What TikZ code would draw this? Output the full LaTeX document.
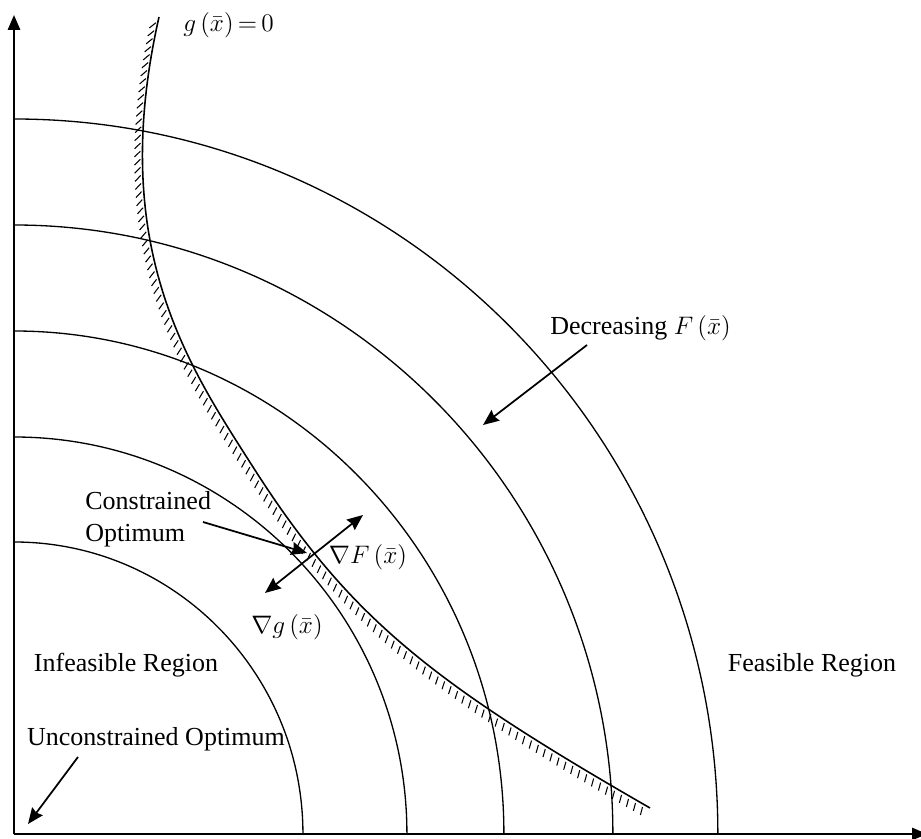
\documentclass[tikz,border=0pt]{standalone}
\usepackage{fontspec}
\setmainfont{Liberation Serif}
\usetikzlibrary{arrows.meta,decorations.markings}
\begin{document}
\begin{tikzpicture}[x=0.02cm,y=0.02cm,
  axis/.style={line width=1.1pt,-{Triangle[length=8.5pt,width=7pt]}},
  contour/.style={line width=0.75pt},
  ptr/.style={line width=1pt,-{Stealth[inset=1pt,length=9pt,width=7.5pt]}},
  dptr/.style={line width=1pt,{Stealth[inset=1pt,length=9pt,width=7.5pt]}-{Stealth[inset=1pt,length=9pt,width=7.5pt]}},
  lbl/.style={font=\fontsize{14.8}{18}\selectfont, inner sep=0pt},
  hatchmarks/.style={decorate,
    decoration={markings, mark=between positions 0.004 and 1 step 4.6pt with {%
      \pgfgettransformentries{\tra}{\trb}{\trc}{\trd}{\trx}{\try}%
      \pgfmathsetmacro\trrel{270-0.5*atan2(\trb,\tra)}%
      \draw[line width=0.6pt] (\trrel:1.7pt) -- (\trrel:6.4pt);}}}
]
\useasboundingbox (0,0) rectangle (921,839);
% axes
\coordinate (O) at (14,5);
\coordinate (ytop) at (14,824);
\coordinate (xend) at (927,5);
\draw[axis] (O) -- (ytop);
\draw[axis] (O) -- (xend);
% contours of F
\draw[contour] (O) ++(0,292) arc[start angle=90,end angle=0,x radius=5.78cm,y radius=5.84cm];
\draw[contour] (O) ++(0,397) arc[start angle=90,end angle=0,x radius=7.86cm,y radius=7.94cm];
\draw[contour] (O) ++(0,503) arc[start angle=90,end angle=0,x radius=9.80cm,y radius=10.06cm];
\draw[contour] (O) ++(0,609) arc[start angle=90,end angle=0,x radius=11.98cm,y radius=12.18cm];
\draw[contour] (O) ++(0,715) arc[start angle=90,end angle=0,x radius=14.08cm,y radius=14.30cm];
% constraint g = 0
\coordinate (g0) at (159,822);
\coordinate (g1) at (107,592);
\coordinate (g2) at (188.4,473.2);
\coordinate (g3) at (253,372);
\coordinate (g4) at (349.8,220.3);
\coordinate (g5) at (433.25,155.75);
\coordinate (g6) at (650,31);
\draw[line width=0.9pt] (g0) .. controls (g1) and (g2) .. (g3) .. controls (g4) and (g5) .. (g6);
\path[hatchmarks]
  plot[domain=0:1,samples=60,variable=\t]
    ({(1-\t)^3*159+3*(1-\t)^2*\t*107+3*(1-\t)*\t^2*188.4+\t^3*253},
     {(1-\t)^3*822+3*(1-\t)^2*\t*592+3*(1-\t)*\t^2*473.2+\t^3*372})
  -- plot[domain=0:1,samples=60,variable=\t]
    ({(1-\t)^3*253+3*(1-\t)^2*\t*349.8+3*(1-\t)*\t^2*433.25+\t^3*650},
     {(1-\t)^3*372+3*(1-\t)^2*\t*220.3+3*(1-\t)*\t^2*155.75+\t^3*31});
% labels
\node[lbl,anchor=west] (gl) at (183,814) {$g\left(\bar{x}\right){=}\,0$};
\node[lbl,anchor=west] (dec) at (550,511) {Decreasing $F\left(\bar{x}\right)$};
\node[lbl,anchor=west,align=left] (co) at (85,320) {Constrained\\Optimum};
\node[lbl] (nF) at (368,282) {$\nabla F\left(\bar{x}\right)$};
\node[lbl] (ng) at (287,212) {$\nabla g\left(\bar{x}\right)$};
\node[lbl] (inf) at (126,174) {Infeasible Region};
\node[lbl] (fea) at (812,174) {Feasible Region};
\node[lbl] (unc) at (156,100) {Unconstrained Optimum};
% arrows
\coordinate (decS) at (587,494);
\coordinate (decE) at (483,414);
\coordinate (coS) at (203,317);
\coordinate (coE) at (307,286);
\coordinate (gA) at (363,324);
\coordinate (gB) at (265,246);
\coordinate (uS) at (78,82);
\coordinate (uE) at (28,15);
\draw[ptr] (decS) -- (decE);
\draw[ptr] (coS) -- (coE);
\draw[dptr] (gB) -- (gA);
\draw[ptr] (uS) -- (uE);
\end{tikzpicture}
\end{document}
